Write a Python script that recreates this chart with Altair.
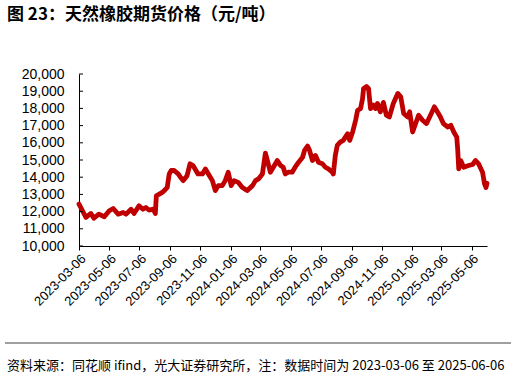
import altair as alt
import pandas as pd

dates = [
    "2023-03-06", "2023-03-13", "2023-03-20", "2023-03-30", "2023-04-05", "2023-04-15",
    "2023-04-26", "2023-05-06", "2023-05-14", "2023-05-24", "2023-06-03", "2023-06-09",
    "2023-06-19", "2023-06-25", "2023-07-05", "2023-07-13", "2023-07-19", "2023-07-25",
    "2023-08-03", "2023-08-07", "2023-08-09", "2023-08-15", "2023-08-21", "2023-08-25",
    "2023-08-31", "2023-09-04", "2023-09-08", "2023-09-14", "2023-09-22", "2023-09-28",
    "2023-10-02", "2023-10-10", "2023-10-16", "2023-10-22", "2023-11-01", "2023-11-10",
    "2023-11-16", "2023-11-22", "2023-11-30", "2023-12-06", "2023-12-12", "2023-12-20",
    "2023-12-26", "2024-01-01", "2024-01-07", "2024-01-13", "2024-01-21", "2024-01-29",
    "2024-02-08", "2024-02-19", "2024-02-25", "2024-03-02", "2024-03-10", "2024-03-16",
    "2024-03-20", "2024-03-26", "2024-04-01", "2024-04-09", "2024-04-15", "2024-04-21",
    "2024-04-25", "2024-05-01", "2024-05-09", "2024-05-15", "2024-05-22", "2024-05-30",
    "2024-06-03", "2024-06-09", "2024-06-13", "2024-06-19", "2024-06-25", "2024-07-01",
    "2024-07-09", "2024-07-15", "2024-07-21", "2024-07-29", "2024-07-31", "2024-08-04",
    "2024-08-08", "2024-08-14", "2024-08-20", "2024-08-29", "2024-09-02", "2024-09-08",
    "2024-09-14", "2024-09-18", "2024-09-24", "2024-09-28", "2024-09-30", "2024-10-06",
    "2024-10-10", "2024-10-14", "2024-10-20", "2024-10-24", "2024-10-28", "2024-11-03",
    "2024-11-09", "2024-11-15", "2024-11-21", "2024-11-29", "2024-12-08", "2024-12-14",
    "2024-12-20", "2024-12-28", "2025-01-01", "2025-01-07", "2025-01-13", "2025-01-19",
    "2025-01-27", "2025-02-04", "2025-02-12", "2025-02-20", "2025-02-28", "2025-03-04",
    "2025-03-10", "2025-03-19", "2025-03-25", "2025-03-31", "2025-04-06", "2025-04-08",
    "2025-04-10", "2025-04-14", "2025-04-20", "2025-04-30", "2025-05-08", "2025-05-14",
    "2025-05-20", "2025-05-28", "2025-06-01", "2025-06-04", "2025-06-06",
]
prices = [
    12440, 12050, 11660, 11890, 11620, 11850,
    11700, 12050, 12180, 11850, 11950, 11850,
    12140, 11890, 12340, 12140, 12240, 12090,
    12140, 11890, 12920, 13020, 13120, 13220,
    13410, 14190, 14390, 14390, 14190, 13950,
    13800, 14090, 14780, 14680, 14190, 14190,
    14480, 14190, 13800, 13220, 13510, 13510,
    13800, 14290, 13510, 13800, 13700, 13410,
    13220, 13510, 13800, 13900, 14190, 15400,
    14970, 14290, 14580, 14970, 14700, 14580,
    14190, 14290, 14290, 14580, 14870, 15160,
    15560, 15810, 15560, 14970, 15260, 14870,
    14780, 14580, 14480, 14290, 14190, 15260,
    15850, 16040, 16140, 16530, 16140, 16630,
    17310, 17890, 17990, 18580, 19160, 19270,
    19160, 17990, 18190, 17990, 18290, 17800,
    18350, 17600, 17500, 18290, 18870, 18670,
    17700, 17500, 17800, 16630, 17120, 17600,
    17310, 17120, 17600, 18090, 17700, 17500,
    17120, 16920, 17020, 16630, 16330, 15560,
    14480, 14970, 14580, 14680, 14740, 14970,
    14780, 14290, 13610, 13400, 13650,
]
y_ticks = [10000, 11000, 12000, 13000, 14000, 15000, 16000, 17000, 18000, 19000, 20000]
x_tick_months = [(2023, 3), (2023, 5), (2023, 7), (2023, 9), (2023, 11), (2024, 1), (2024, 3),
                 (2024, 5), (2024, 7), (2024, 9), (2024, 11), (2025, 1), (2025, 3), (2025, 5)]
title_text = "图 23：天然橡胶期货价格（元/吨）"
footer_text = "资料来源：同花顺 ifind，光大证券研究所，注：数据时间为 2023-03-06 至 2025-06-06"

df = pd.DataFrame({"date": dates, "price": prices})
tick_df = pd.DataFrame({"price": y_ticks})
one = pd.DataFrame({"a": [0]})

x_values = [alt.DateTime(year=y, month=m, date=6, utc=True) for y, m in x_tick_months]
x_domain = [alt.DateTime(year=2023, month=3, date=6, utc=True),
            alt.DateTime(year=2025, month=6, date=6, utc=True)]

AX_FONT = "Liberation Sans"

y_scale = alt.Scale(domain=[10000, 20000], nice=False, zero=False)
y_axis = alt.Axis(values=y_ticks, format=",d", labelFont=AX_FONT, labelFontSize=14,
                  labelColor="black", ticks=False, domainColor="black", labelPadding=15,
                  grid=False, title=None, labelOverlap=False)

line = alt.Chart(df).mark_line(color="#C00000", strokeWidth=4.8, strokeJoin="round", strokeCap="round").encode(
    x=alt.X("date:T", scale=alt.Scale(type="utc", domain=x_domain, nice=False),
            axis=alt.Axis(values=x_values, format="%Y-%m-%d", labelAngle=-45, labelFont=AX_FONT,
                          labelFontSize=13, labelColor="black", tickSize=4, tickColor="black",
                          domainColor="black", labelPadding=2, grid=False, title=None,
                          labelOverlap=False)),
    y=alt.Y("price:Q", scale=y_scale, axis=y_axis),
)

inner_ticks = alt.Chart(tick_df).mark_rule(color="black", strokeWidth=1).encode(
    y=alt.Y("price:Q", scale=y_scale, axis=y_axis),
    x=alt.value(0),
    x2=alt.value(4),
)

title = alt.Chart(one).mark_text(text=title_text, font="Noto Sans CJK SC", fontSize=17,
                                 fontWeight="bold", align="left", baseline="middle", color="black").encode(
    x=alt.value(-72), y=alt.value(-59))

footer = alt.Chart(one).mark_text(text=footer_text, font="Noto Sans CJK SC", fontSize=13,
                                  align="left", baseline="middle", color="black").encode(
    x=alt.value(-72), y=alt.value(292))

footer_rule = alt.Chart(one).mark_rule(color="#404040", strokeWidth=1).encode(
    x=alt.value(-74), x2=alt.value(432), y=alt.value(269))

chart = alt.layer(line, inner_ticks, title, footer, footer_rule).properties(
    width=408, height=172,
    padding={"left": 79, "top": 74, "right": 29, "bottom": 130},
    autosize=alt.AutoSizeParams(type="none"),
).configure_view(strokeWidth=0)

chart.save("out.html", embed_options={"renderer": "svg", "actions": False})
